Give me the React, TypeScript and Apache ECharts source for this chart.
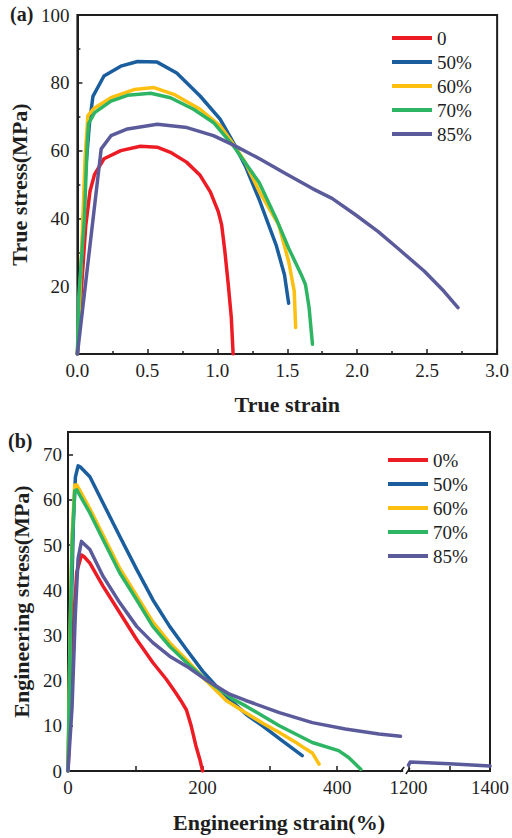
import { useEffect, useRef } from 'react';
import * as echarts from 'echarts';

const FONT = 'Liberation Serif';
const INK = '#1e1e1e';
const COLORS = ['#ED1C24', '#1B5E9E', '#FDC010', '#2DB563', '#5B5B9C'];

// ---------- (a) True stress vs true strain ----------
const trueNames = ['0', '50%', '60%', '70%', '85%'];
const true0 = [[0, 0], [0.03, 20], [0.06, 38], [0.09, 48], [0.123, 53], [0.19, 57.6], [0.31, 60], [0.45, 61.3], [0.57, 61], [0.665, 59.5], [0.78, 56.6], [0.877, 52.7], [0.95, 47.8], [1.007, 42], [1.031, 38.1], [1.054, 30.3], [1.078, 20.6], [1.1, 10.8], [1.113, 0]];
const true50 = [[0, 0], [0.03, 28], [0.06, 55], [0.087, 68.3], [0.111, 76], [0.19, 82], [0.31, 84.9], [0.43, 86.3], [0.57, 86.1], [0.71, 82.9], [0.877, 76.1], [1.02, 69.3], [1.113, 62.5], [1.2, 55.5], [1.3, 45.5], [1.42, 32.2], [1.48, 23.4], [1.51, 15]];
const true60 = [[0, 0], [0.03, 30], [0.055, 58], [0.075, 70.3], [0.12, 72.5], [0.24, 75.6], [0.405, 78], [0.547, 78.6], [0.689, 76.6], [0.877, 72.2], [1.02, 67.3], [1.113, 62], [1.2, 56.5], [1.3, 48], [1.44, 38], [1.51, 27.3], [1.55, 18.5], [1.56, 7.8]];
const true70 = [[0, 0], [0.01, 17], [0.05, 40], [0.07, 62], [0.08, 68], [0.123, 71.2], [0.24, 74.6], [0.358, 76.3], [0.524, 76.9], [0.665, 75.6], [0.83, 72.2], [0.972, 68.3], [1.113, 61.5], [1.3, 50.5], [1.42, 40], [1.51, 31.2], [1.6, 23.4], [1.63, 20.5], [1.656, 13.7], [1.68, 2.9]];
const true85 = [[0, 0], [0.17, 60.5], [0.24, 64.4], [0.358, 66.4], [0.571, 67.8], [0.783, 66.8], [0.972, 64.4], [1.113, 61.7], [1.302, 57.6], [1.49, 53.2], [1.68, 48.8], [1.82, 45.9], [1.99, 41], [2.15, 36.1], [2.29, 31.2], [2.48, 24.4], [2.62, 18.5], [2.72, 13.7]];
const trueData = [true0, true50, true60, true70, true85];

// ---------- (b) Engineering stress vs engineering strain ----------
const engNames = ['0%', '50%', '60%', '70%', '85%'];
const eng0 = [[0, 0], [4, 15], [8, 32], [13, 44], [20, 47.8], [24, 47.4], [32.5, 46], [52, 40.9], [77, 35], [102, 29.1], [126, 24], [146, 20.3], [160, 17.3], [168, 15.5], [176, 13.5], [183, 10], [190, 5.6], [196, 2.5], [200, 0]];
const eng50 = [[0, 0], [4, 30], [8, 55], [11, 65], [15, 67.5], [18, 67.3], [32.5, 65.1], [52, 59.3], [77, 51.9], [102, 44.6], [126, 37.9], [151, 32], [176, 26.9], [200, 22.1], [220, 18.8], [240, 15.9], [265, 12.5], [289, 10], [320, 6.5], [348, 3.4]];
const eng60 = [[0, 0], [3, 30], [6, 52], [10, 63.3], [13, 63.3], [32.5, 58], [52, 52.2], [77, 44.8], [102, 38.8], [126, 33], [151, 28.4], [176, 24.6], [205, 20], [235, 15.6], [264, 12.9], [290, 10.5], [314, 8.5], [340, 6.2], [353, 4.9], [363, 4], [373, 1.5]];
const eng70 = [[0, 0], [3, 28], [6, 50], [10, 62], [13, 62.2], [32.5, 57.1], [52, 51.2], [77, 43.8], [102, 37.9], [126, 32], [151, 27.6], [176, 24], [205, 20.2], [244, 16], [264, 14.4], [314, 10], [363, 6.3], [402, 4.5], [417, 3], [435, 0.4]];
const eng85 = [[0, 0], [6, 14], [11, 35], [15, 47], [20, 50.8], [32.5, 49], [52, 43.1], [77, 37.2], [102, 32], [126, 28.4], [151, 25.4], [176, 23.2], [205, 20.2], [240, 17], [264, 15.6], [314, 12.9], [363, 10.7], [412, 9.3], [462, 8.2], [494, 7.7]];
const eng85Tail = [[1200, 1.3], [1204, 2.0], [1300, 1.6], [1400, 1.1]];
const engData = [eng0, eng50, eng60, eng70, eng85];

// broken x axis: 0..500 linear, then 1200..1400 compressed
const BREAK_LOW = 500;
const BREAK_HIGH = 1200;
const HIGH_START = 506;
const HIGH_SCALE = 0.605;
const engTickValues = [0, 100, 200, 300, 400, 1200, 1300, 1400];
const engLabelValues = [0, 200, 400, 1200, 1400];

const toDisplay = (v: number) => (v <= BREAK_LOW ? v : HIGH_START + (v - BREAK_HIGH) * HIGH_SCALE);
const fromDisplay = (d: number) => (d <= BREAK_LOW + 1 ? d : BREAK_HIGH + (d - HIGH_START) / HIGH_SCALE);

const labelStyle = { fontFamily: FONT, fontSize: 19, color: INK };
const nameStyle = { fontFamily: FONT, fontSize: 22, fontWeight: 'bold' as const, color: INK };
const lineAxis = { show: true, lineStyle: { color: INK, width: 2 } };
const tick = { show: true, inside: true, length: 5, lineStyle: { color: INK, width: 1.5 } };
const minor = { show: true, splitNumber: 2, length: 3, lineStyle: { color: INK, width: 1.5 } };

const legendBase = {
  orient: 'vertical' as const,
  itemWidth: 40,
  itemHeight: 4,
  itemGap: 4,
  icon: 'rect',
  textStyle: { fontFamily: FONT, fontSize: 19, color: INK, lineHeight: 20 },
};

function lineSeries(name: string, data: number[][], color: string) {
  return {
    name,
    type: 'line',
    data,
    showSymbol: false,
    symbol: 'none',
    color,
    lineStyle: { color, width: 3.5, join: 'round', cap: 'round' },
    emphasis: { disabled: true },
  };
}

function topOption() {
  return {
    animation: false,
    grid: { left: 76, top: 15, width: 424, height: 342, show: true, borderColor: INK, borderWidth: 2, backgroundColor: 'transparent' },
    legend: { ...legendBase, left: 387, top: 23, data: trueNames },
    xAxis: {
      type: 'value', min: 0, max: 3, interval: 0.5,
      axisLine: lineAxis, axisTick: tick, minorTick: minor, splitLine: { show: false },
      axisLabel: { ...labelStyle, margin: 7, formatter: (v: number) => v.toFixed(1) },
      name: 'True strain', nameLocation: 'middle', nameGap: 39, nameTextStyle: nameStyle,
    },
    yAxis: {
      type: 'value', min: 0, max: 100, interval: 20,
      axisLine: lineAxis, axisTick: tick, minorTick: minor, splitLine: { show: false },
      axisLabel: { ...labelStyle, margin: 8, showMinLabel: false },
      name: 'True stress(MPa)', nameLocation: 'middle', nameGap: 40, nameTextStyle: nameStyle,
    },
    series: trueData.map((d, i) => lineSeries(trueNames[i], d, COLORS[i])),
    graphic: [
      { type: 'text', left: 10, top: 4, style: { text: '(a)', fontFamily: FONT, fontSize: 20, fontWeight: 'bold', fill: INK } },
    ],
  };
}

function botOption() {
  const series: any[] = engData.map((d, i) =>
    lineSeries(engNames[i], d.map((p) => [toDisplay(p[0]), p[1]]), COLORS[i])
  );
  series.push(lineSeries(engNames[4], eng85Tail.map((p) => [toDisplay(p[0]), p[1]]), COLORS[4]));
  return {
    animation: false,
    grid: { left: 68, top: 12, width: 424, height: 340, show: true, borderColor: INK, borderWidth: 2, backgroundColor: 'transparent' },
    legend: { ...legendBase, left: 383, top: 25, data: engNames },
    xAxis: {
      type: 'value', min: 0, max: toDisplay(1400),
      axisLine: lineAxis,
      axisTick: { ...tick, customValues: engTickValues.map(toDisplay) },
      splitLine: { show: false },
      axisLabel: {
        ...labelStyle, margin: 7,
        customValues: engLabelValues.map(toDisplay),
        formatter: (v: number) => String(Math.round(fromDisplay(v) / 100) * 100),
      },
      name: 'Engineering strain(%)', nameLocation: 'middle', nameGap: 40, nameTextStyle: nameStyle,
    },
    yAxis: {
      type: 'value', min: 0, max: 75, interval: 10,
      axisLine: lineAxis, axisTick: tick, splitLine: { show: false },
      axisLabel: { ...labelStyle, margin: 6, showMaxLabel: false },
      name: 'Engineering stress(MPa)', nameLocation: 'middle', nameGap: 30, nameTextStyle: nameStyle,
    },
    series,
  };
}

export default function App() {
  const topRef = useRef<HTMLDivElement>(null);
  const botRef = useRef<HTMLDivElement>(null);
  useEffect(() => {
    const c1 = echarts.init(topRef.current!, null, { renderer: 'svg' });
    const c2 = echarts.init(botRef.current!, null, { renderer: 'svg' });
    c1.setOption(topOption() as any);
    c2.setOption(botOption() as any);
    const a = c2.convertToPixel({ gridIndex: 0 }, [BREAK_LOW - 2, 0]) as number[];
    const b = c2.convertToPixel({ gridIndex: 0 }, [HIGH_START - 1, 0]) as number[];
    const y = a[1];
    c2.setOption({
      graphic: [
        { type: 'text', left: 8, top: 11, style: { text: '(b)', fontFamily: FONT, fontSize: 20, fontWeight: 'bold', fill: INK } },
        { type: 'rect', shape: { x: a[0], y: y - 3, width: b[0] - a[0], height: 6 }, style: { fill: '#fff' }, z: 100 },
        { type: 'line', shape: { x1: a[0] - 3, y1: y + 1, x2: a[0] + 1, y2: y - 4 }, style: { stroke: INK, lineWidth: 1.5 }, z: 101 },
        { type: 'line', shape: { x1: b[0] - 2, y1: y + 3, x2: b[0] + 2, y2: y - 3 }, style: { stroke: INK, lineWidth: 1.5 }, z: 101 },
      ],
    } as any);
    return () => {
      c1.dispose();
      c2.dispose();
    };
  }, []);
  return (
    <div style={{ position: 'fixed', left: 0, top: 0, width: 512, height: 838, background: '#fff' }}>
      <div ref={topRef} style={{ width: 512, height: 420 }} />
      <div ref={botRef} style={{ width: 512, height: 418 }} />
    </div>
  );
}
